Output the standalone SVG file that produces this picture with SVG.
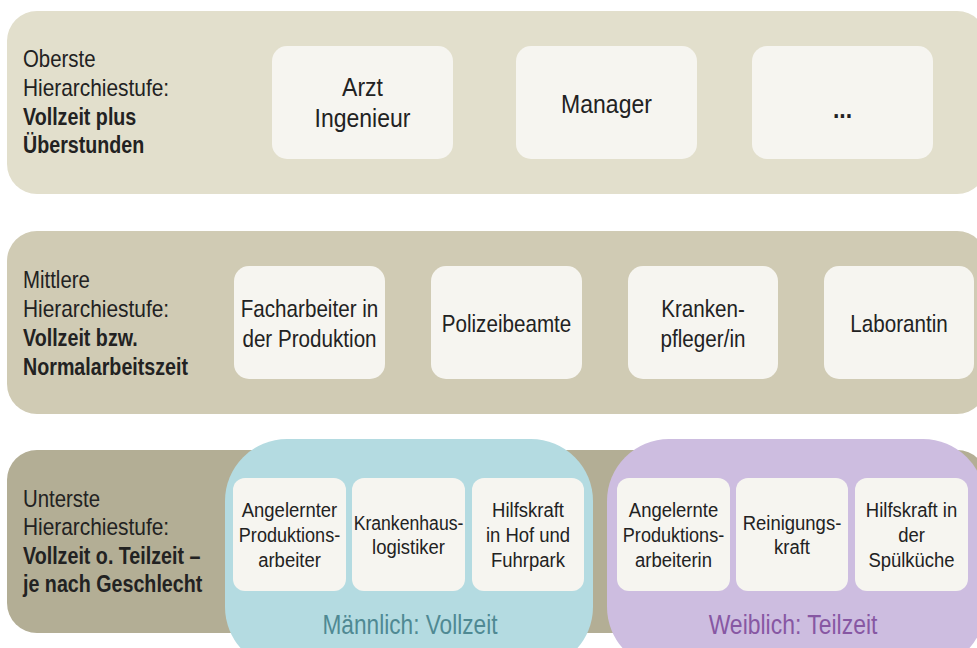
<svg xmlns="http://www.w3.org/2000/svg" width="977" height="648" viewBox="0 0 977 648">
<style>
text{font-family:"Liberation Sans",Arial,sans-serif;fill:#222;}
.lbl{font-size:24px;}
.b{font-weight:bold;}
.bx{fill:#f6f5f0;}
.t1{font-size:25px;text-anchor:middle;}
.t2{font-size:24px;text-anchor:middle;}
.t3{font-size:21px;text-anchor:middle;}
.grp{font-size:27px;text-anchor:middle;}
</style>
<rect width="977" height="648" fill="#ffffff"/>
<g id="band1">
<rect x="7" y="11" width="980" height="183" rx="30" fill="#e2dfcc"/>
<text class="lbl" transform="translate(23 67) scale(.85 1)">Oberste</text>
<text class="lbl" transform="translate(23 96) scale(.87 1)">Hierarchiestufe:</text>
<text class="lbl b" transform="translate(23 125) scale(.82 1)">Vollzeit plus</text>
<text class="lbl b" transform="translate(23 153) scale(.82 1)">Überstunden</text>
</g>
<g id="arzt"><rect class="bx" x="272" y="46" width="181" height="113" rx="15"/>
<text class="t1" transform="translate(362.5 96) scale(.92 1)">Arzt</text><text class="t1" transform="translate(362.5 127) scale(.92 1)">Ingenieur</text></g>
<g id="manager"><rect class="bx" x="516" y="46" width="181" height="113" rx="15"/>
<text class="t1" transform="translate(606.5 113) scale(.92 1)">Manager</text></g>
<g id="dots"><rect class="bx" x="752" y="46" width="181" height="113" rx="15"/>
<text class="t1 b" transform="translate(842.5 118) scale(.92 1)">...</text></g>

<g id="band2">
<rect x="7" y="231" width="980" height="183" rx="30" fill="#d0cbb4"/>
<text class="lbl" transform="translate(23 288) scale(.85 1)">Mittlere</text>
<text class="lbl" transform="translate(23 317) scale(.87 1)">Hierarchiestufe:</text>
<text class="lbl b" transform="translate(23 346) scale(.82 1)">Vollzeit bzw.</text>
<text class="lbl b" transform="translate(23 375) scale(.82 1)">Normalarbeitszeit</text>
</g>
<g id="facharbeiter"><rect class="bx" x="234" y="266" width="151" height="113" rx="15"/>
<text class="t2" transform="translate(309.5 317) scale(.86 1)">Facharbeiter in</text><text class="t2" transform="translate(309.5 347) scale(.86 1)">der Produktion</text></g>
<g id="polizei"><rect class="bx" x="431" y="266" width="151" height="113" rx="15"/>
<text class="t2" transform="translate(506.5 332) scale(.86 1)">Polizeibeamte</text></g>
<g id="kranken"><rect class="bx" x="628" y="266" width="150" height="113" rx="15"/>
<text class="t2" transform="translate(703 317) scale(.86 1)">Kranken-</text><text class="t2" transform="translate(703 347) scale(.86 1)">pfleger/in</text></g>
<g id="laborantin"><rect class="bx" x="824" y="266" width="150" height="113" rx="15"/>
<text class="t2" transform="translate(899 332) scale(.86 1)">Laborantin</text></g>

<g id="band3">
<rect x="7" y="450" width="980" height="183" rx="30" fill="#b3ae95"/>
<text class="lbl" transform="translate(23 507) scale(.85 1)">Unterste</text>
<text class="lbl" transform="translate(23 535) scale(.87 1)">Hierarchiestufe:</text>
<text class="lbl b" transform="translate(23 564) scale(.82 1)">Vollzeit o. Teilzeit –</text>
<text class="lbl b" transform="translate(23 592) scale(.82 1)">je nach Geschlecht</text>
</g>
<g id="maennlich">
<rect x="225" y="439" width="368" height="230" rx="62" fill="#b4dbe1"/>
<text class="grp" transform="translate(410 634) scale(.84 1)" style="fill:#4f8993">Männlich: Vollzeit</text>
</g>
<g id="weiblich">
<rect x="607" y="439" width="378" height="230" rx="62" fill="#cdbde0"/>
<text class="grp" transform="translate(793 634) scale(.85 1)" style="fill:#8757a3">Weiblich: Teilzeit</text>
</g>
<g id="angelernter"><rect class="bx" x="233" y="478" width="113" height="113" rx="12"/>
<text class="t3" transform="translate(289.5 517) scale(.88 1)">Angelernter</text><text class="t3" transform="translate(289.5 542) scale(.86 1)">Produktions-</text><text class="t3" transform="translate(289.5 567) scale(.88 1)">arbeiter</text></g>
<g id="logistiker"><rect class="bx" x="352" y="478" width="113" height="113" rx="12"/>
<text class="t3" transform="translate(408.5 530) scale(.84 1)">Krankenhaus-</text><text class="t3" transform="translate(408.5 554) scale(.88 1)">logistiker</text></g>
<g id="hilfskraft_hof"><rect class="bx" x="472" y="478" width="112" height="113" rx="12"/>
<text class="t3" transform="translate(528 517) scale(.88 1)">Hilfskraft</text><text class="t3" transform="translate(528 542) scale(.88 1)">in Hof und</text><text class="t3" transform="translate(528 567) scale(.88 1)">Fuhrpark</text></g>
<g id="angelernte"><rect class="bx" x="617" y="478" width="113" height="113" rx="12"/>
<text class="t3" transform="translate(673.5 517) scale(.88 1)">Angelernte</text><text class="t3" transform="translate(673.5 542) scale(.86 1)">Produktions-</text><text class="t3" transform="translate(673.5 567) scale(.88 1)">arbeiterin</text></g>
<g id="reinigung"><rect class="bx" x="736" y="478" width="112" height="113" rx="12"/>
<text class="t3" transform="translate(792 530) scale(.88 1)">Reinigungs-</text><text class="t3" transform="translate(792 554) scale(.88 1)">kraft</text></g>
<g id="spuelkueche"><rect class="bx" x="855" y="478" width="113" height="113" rx="12"/>
<text class="t3" transform="translate(911.5 517) scale(.88 1)">Hilfskraft in</text><text class="t3" transform="translate(911.5 542) scale(.88 1)">der</text><text class="t3" transform="translate(911.5 567) scale(.88 1)">Spülküche</text></g>
<g id="connectors"/>
</svg>
